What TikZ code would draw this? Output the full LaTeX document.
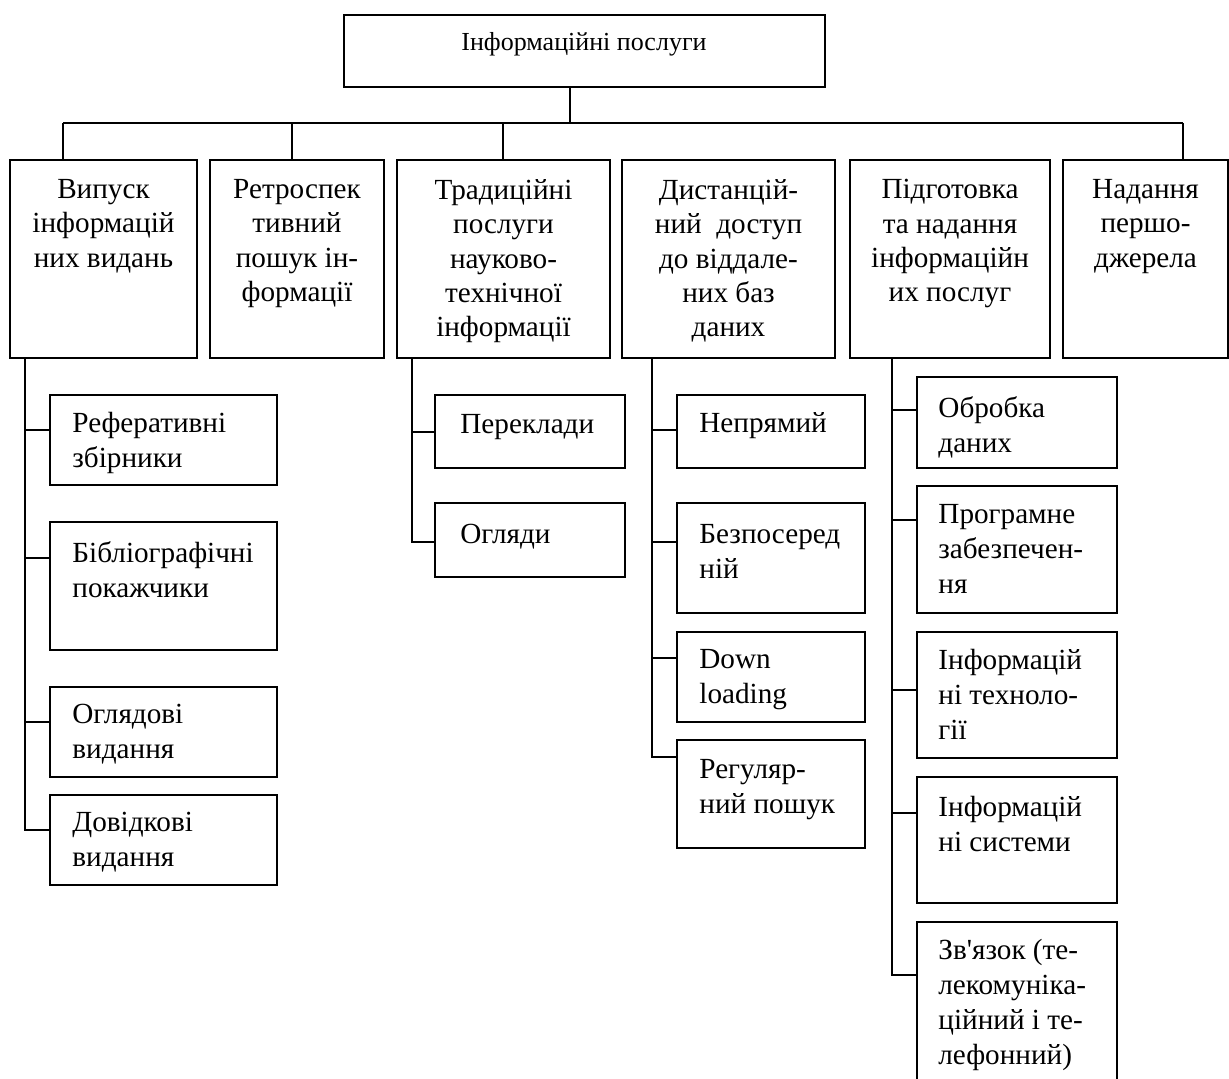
\documentclass[tikz,border=0pt]{standalone}
\usepackage{fontspec}
\setmainfont{Liberation Serif}
\newcommand{\aposq}{{\addfontfeatures{Ligatures=TeXOff}'}}
\usetikzlibrary{fit}
\begin{document}
\begin{tikzpicture}[x=0.5pt,y=-0.5pt,
  box/.style={draw, line width=1.4pt, inner sep=0pt},
  txt/.style={font=\fontsize{14.6}{17.2}\selectfont, inner sep=0pt, align=center, anchor=north},
  ltxt/.style={font=\fontsize{14.6}{17.5}\selectfont, inner sep=0pt, align=left, anchor=north west},
  conn/.style={line width=1.1pt}]
\useasboundingbox (0,0) rectangle (1229,1079);
\clip (0,0) rectangle (1229,1079);
% top
\node[box, fit={(344,15) (825,87)}] (top) {};
\node[txt, font=\fontsize{13}{16}\selectfont, anchor=center] (toptxt) at (584,44) {Інформаційні послуги};
% row 1
\node[box, fit={(10,160) (197,358)}] (b1) {};
\node[box, fit={(210,160) (384,358)}] (b2) {};
\node[box, fit={(397,160) (610,358)}] (b3) {};
\node[box, fit={(622,160) (835,358)}] (b4) {};
\node[box, fit={(850,160) (1050,358)}] (b5) {};
\node[box, fit={(1063,160) (1228,358)}] (b6) {};
\node[txt] (t1) at (103.5,179) {Випуск\\інформацій\\них видань};
\node[txt] (t2) at (297,179) {Ретроспек\\тивний\\пошук ін-\\формації};
\node[txt] (t3) at (503.5,179) {Традиційні\\послуги\\науково-\\технічної\\інформації};
\node[txt] (t4) at (728.5,179) {Дистанцій-\\ний\ \ доступ\\до віддале-\\них баз\\даних};
\node[txt] (t5) at (950,179) {Підготовка\\та надання\\інформаційн\\их послуг};
\node[txt] (t6) at (1145.5,179) {Надання\\першо-\\джерела};
% column 1
\node[box, fit={(50,395) (277,485)}] (c11) {};
\node[box, fit={(50,522) (277,650)}] (c12) {};
\node[box, fit={(50,687) (277,777)}] (c13) {};
\node[box, fit={(50,795) (277,885)}] (c14) {};
\node[ltxt] (x11) at (72,412) {Реферативні\\збірники};
\node[ltxt] (x12) at (72,541) {Бібліографічні\\покажчики};
\node[ltxt] (x13) at (72,704) {Оглядові\\видання};
\node[ltxt] (x14) at (72,812) {Довідкові\\видання};
% column 2
\node[box, fit={(435,395) (625,468)}] (c21) {};
\node[box, fit={(435,503) (625,577)}] (c22) {};
\node[ltxt] (x21) at (460,414) {Переклади};
\node[ltxt] (x22) at (460,524) {Огляди};
% column 3
\node[box, fit={(677,395) (865,468)}] (c31) {};
\node[box, fit={(677,503) (865,613)}] (c32) {};
\node[box, fit={(677,632) (865,722)}] (c33) {};
\node[box, fit={(677,740) (865,848)}] (c34) {};
\node[ltxt] (x31) at (699,412) {Непрямий};
\node[ltxt] (x32) at (699,524) {Безпосеред\\ній};
\node[ltxt] (x33) at (699,649) {Down\\loading};
\node[ltxt] (x34) at (699,759) {Регуляр-\\ний пошук};
% column 4
\node[box, fit={(917,377) (1117,468)}] (c41) {};
\node[box, fit={(917,486) (1117,613)}] (c42) {};
\node[box, fit={(917,632) (1117,758)}] (c43) {};
\node[box, fit={(917,777) (1117,903)}] (c44) {};
\node[box, fit={(917,922) (1117,1095)}] (c45) {};
\node[ltxt] (x41) at (938,396) {Обробка\\даних};
\node[ltxt] (x42) at (938,504) {Програмне\\забезпечен-\\ня};
\node[ltxt] (x43) at (938,649) {Інформацій\\ні техноло-\\гії};
\node[ltxt] (x44) at (938,796) {Інформацій\\ні системи};
\node[ltxt] (x45) at (938,939) {Зв\aposq язок (те-\\лекомуніка-\\ційний і те-\\лефонний)};
% bus
\coordinate (bus0) at (63,123);
\coordinate (bus1) at (1183,123);
\coordinate (tj) at (570,123);
\coordinate (d2) at (292,123);
\coordinate (d3) at (503,123);
\draw[conn] (tj |- top.south) -- (tj);
\draw[conn] (bus0) -- (bus1);
\draw[conn] (bus0) -- (bus0 |- b1.north);
\draw[conn] (d2) -- (d2 |- b2.north);
\draw[conn] (d3) -- (d3 |- b3.north);
\draw[conn] (bus1) -- (bus1 |- b6.north);
% spine 1
\coordinate (s1) at (25,830);
\coordinate (t11) at (25,430);
\coordinate (t12) at (25,558);
\coordinate (t13) at (25,722);
\draw[conn] (s1 |- b1.south) -- (s1) -- (s1 -| c14.west);
\draw[conn] (t11) -- (t11 -| c11.west);
\draw[conn] (t12) -- (t12 -| c12.west);
\draw[conn] (t13) -- (t13 -| c13.west);
% spine 2
\coordinate (s2) at (412,542);
\coordinate (t21) at (412,432);
\draw[conn] (s2 |- b3.south) -- (s2) -- (s2 -| c22.west);
\draw[conn] (t21) -- (t21 -| c21.west);
% spine 3
\coordinate (s3) at (652,757);
\coordinate (t31) at (652,430);
\coordinate (t32) at (652,542);
\coordinate (t33) at (652,658);
\draw[conn] (s3 |- b4.south) -- (s3) -- (s3 -| c34.west);
\draw[conn] (t31) -- (t31 -| c31.west);
\draw[conn] (t32) -- (t32 -| c32.west);
\draw[conn] (t33) -- (t33 -| c33.west);
% spine 4
\coordinate (s4) at (892,975);
\coordinate (t41) at (892,410);
\coordinate (t42) at (892,520);
\coordinate (t43) at (892,690);
\coordinate (t44) at (892,813);
\draw[conn] (s4 |- b5.south) -- (s4) -- (s4 -| c45.west);
\draw[conn] (t41) -- (t41 -| c41.west);
\draw[conn] (t42) -- (t42 -| c42.west);
\draw[conn] (t43) -- (t43 -| c43.west);
\draw[conn] (t44) -- (t44 -| c44.west);
\end{tikzpicture}
\end{document}
